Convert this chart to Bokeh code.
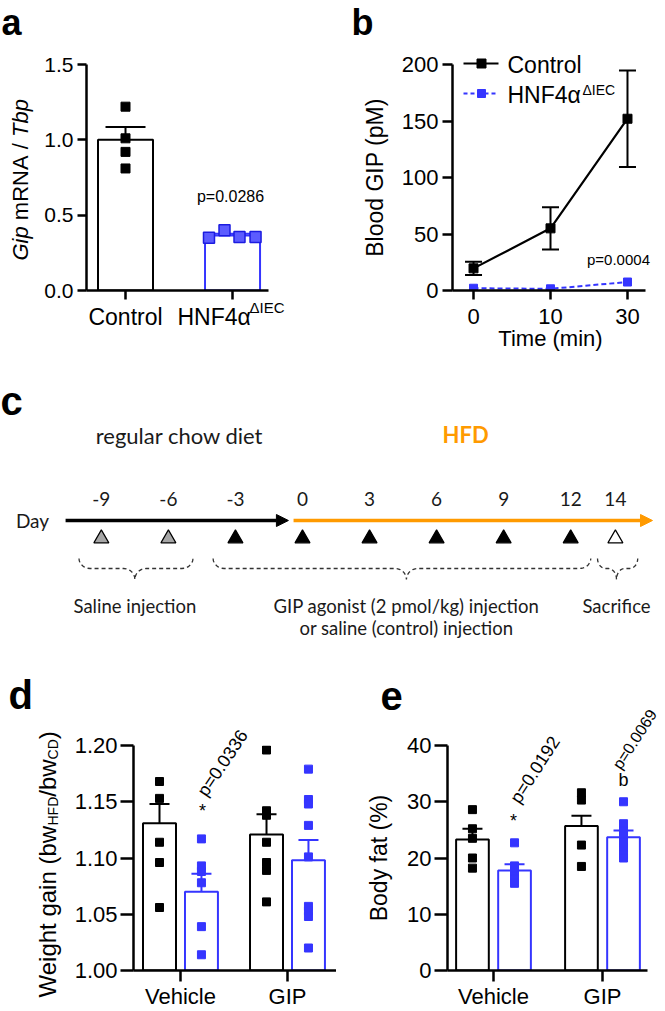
import numpy as np
from bokeh.plotting import figure
from bokeh.models import (Range1d, FixedTicker, Whisker, TeeHead, ColumnDataSource,
                          Arrow, NormalHead, NumeralTickFormatter, GridBox)
from bokeh.layouts import column, row
from bokeh.embed import file_html
from bokeh.resources import INLINE
from bokeh.core.properties import value

ARIAL = "Liberation Sans"
CAL = "Lato"
BLUE = "#3535ff"
ORANGE = "#ff9a00"
W, H = 665, 1011

# ---------------- data ----------------
# panel a
a_groups = ["Control", "HNF4α"]
a_mean = [1.00, 0.365]
a_sem = [0.085, 0.012]
a_ctrl_pts = [1.22, 1.01, 0.92, 0.81]
a_hnf_pts = [0.35, 0.40, 0.355, 0.355]
a_yticks = [0.0, 0.5, 1.0, 1.5]
# panel b
b_times = ["0", "10", "30"]
b_ctrl_mean = [19.6, 55.0, 152.0]
b_ctrl_sem = [5.9, 18.7, 42.7]
b_hnf_mean = [2.0, 1.5, 7.5]
b_yticks = [0, 50, 100, 150, 200]
# panel c
c_days = [-9, -6, -3, 0, 3, 6, 9, 12, 14]
c_kind = ["saline", "saline", "treat", "treat", "treat", "treat", "treat", "treat", "sacrifice"]
c_kind_color = {"saline": "#a6a6a6", "treat": "black", "sacrifice": "white"}
c_chow = (-10.6, -0.63)
c_hfd = (-0.4, 15.66)
c_braces = [(-10.0, -4.9, -7.5), (-4.0, 12.9, 4.65), (13.2, 15.0, 14.05)]
c_brace_text = ["Saline injection", "GIP agonist (2 pmol/kg) injection", "Sacrifice"]
# panels d, e
de_groups = ["Vehicle", "GIP"]
d_ctrl_mean = [1.131, 1.121]
d_ctrl_sem = [0.017, 0.018]
d_hnf_mean = [1.070, 1.098]
d_hnf_sem = [0.016, 0.018]
d_ctrl_pts = [[1.168, 1.153, 1.114, 1.096, 1.056],
              [1.196, 1.142, 1.138, 1.114, 1.096, 1.089, 1.061]]
d_hnf_pts = [[1.117, 1.093, 1.088, 1.078, 1.039, 1.014],
             [1.179, 1.152, 1.148, 1.129, 1.101, 1.057, 1.053, 1.048, 1.020]]
d_yticks = [1.00, 1.05, 1.10, 1.15, 1.20]
e_ctrl_mean = [23.3, 25.7]
e_ctrl_sem = [1.9, 1.8]
e_hnf_mean = [17.8, 23.7]
e_hnf_sem = [1.1, 1.2]
e_ctrl_pts = [[28.6, 25.2, 23.5, 20.0, 18.2],
              [31.6, 30.3, 22.3, 18.5]]
e_hnf_pts = [[22.7, 18.6, 17.6, 16.8, 16.2, 15.5],
             [30.0, 26.1, 24.8, 24.0, 22.8, 21.8, 20.6, 20.0]]
e_yticks = [0, 10, 20, 30, 40]


# ---------------- helpers ----------------
def make_fig(w, h, left, right, top, bottom, xr, yr, axes=True):
    kw = {}
    if not axes:
        kw = dict(x_axis_location=None, y_axis_location=None)
    p = figure(width=w, height=h, x_range=Range1d(*xr), y_range=Range1d(*yr),
               output_backend="svg", toolbar_location=None,
               min_border_left=left, min_border_right=right,
               min_border_top=top, min_border_bottom=bottom, **kw)
    p.outline_line_color = None
    p.xgrid.visible = False
    p.ygrid.visible = False
    p.background_fill_color = "white"
    p.border_fill_color = "white"
    return p


def style_axis(ax, size, tick_out=9, standoff=4):
    ax.axis_line_width = 2.5
    ax.axis_line_color = "black"
    ax.major_tick_line_width = 2.5
    ax.major_tick_line_color = "black"
    ax.major_tick_out = tick_out
    ax.major_tick_in = 0
    ax.minor_tick_out = 0
    ax.minor_tick_in = 0
    ax.major_label_text_font = ARIAL
    ax.major_label_text_font_size = f"{size}px"
    ax.major_label_text_color = "black"
    ax.major_label_standoff = standoff
    ax.axis_label_text_font = ARIAL
    ax.axis_label_text_font_style = "normal"
    ax.axis_label_text_color = "black"


def upper_whisker(p, xs, mean, sem, color, head):
    src = ColumnDataSource(dict(x=xs, lo=mean, hi=[m + s for m, s in zip(mean, sem)]))
    p.add_layout(Whisker(source=src, base="x", lower="lo", upper="hi", dimension="height",
                         lower_head=None, upper_head=TeeHead(size=head, line_width=2, line_color=color),
                         line_width=2, line_color=color))


# transparent overlay that carries the free-floating texts (page pixel coordinates)
ov = figure(width=W, height=H, x_range=Range1d(0, W), y_range=Range1d(0, H),
            output_backend="svg", toolbar_location=None, min_border=0,
            x_axis_location=None, y_axis_location=None)
ov.xgrid.visible = False
ov.ygrid.visible = False
ov.outline_line_color = None
ov.background_fill_color = None
ov.border_fill_color = None


def ot(x, y, text, size, font=ARIAL, angle=0.0, align="left", style="normal", color="black"):
    # y is the vertical middle of the text, in page pixels from the top
    ov.text(x=[x], y=[H - y], text=[text], angle=angle, text_font=value(font),
            text_font_size=f"{size}px", text_align=align, text_baseline="middle",
            text_font_style=style, text_color=color)


# ---------------- panel a ----------------
pa = make_fig(336, 350, 86, 68, 64, 60, (-0.3645, 1.336), (0, 1.5))
style_axis(pa.yaxis[0], 21)
style_axis(pa.xaxis[0], 23, tick_out=9, standoff=4)
pa.yaxis[0].ticker = FixedTicker(ticks=a_yticks)
pa.yaxis[0].formatter = NumeralTickFormatter(format="0.0")
pa.xaxis[0].ticker = FixedTicker(ticks=[0, 1])
pa.xaxis[0].major_label_overrides = {0: a_groups[0], 1: " "}
pa.vbar(x=[0, 1], top=a_mean, bottom=0, width=0.514, fill_color="white",
        line_color=["black", BLUE], line_width=2)
upper_whisker(pa, [0], a_mean[:1], a_sem[:1], "black", 40)
upper_whisker(pa, [1], a_mean[1:], a_sem[1:], BLUE, 36)
pa.scatter(x=[0] * len(a_ctrl_pts), y=a_ctrl_pts, marker="square", size=9, color="black")
a_hnf_jit = [-0.22, -0.075, 0.065, 0.215]
pa.scatter(x=[1 + j for j in a_hnf_jit], y=a_hnf_pts, marker="square", size=11,
           fill_color="#5c5cff", line_color="#1c1ce0", line_width=1.5)
ot(1, 22, "a", 36, style="bold")
ot(177, 316, a_groups[1], 23)
ot(249, 307, "ΔIEC", 15)
ot(230, 196, "p=0.0286", 16, align="center")
for txt, off, st in [("Gip", 0.0, "italic"), ("mRNA", 1.834, "normal"),
                     ("/", 5.056, "normal"), ("Tbp", 5.612, "italic")]:
    ot(20, 260 - off * 22, txt, 22, angle=np.pi / 2, style=st)

# ---------------- panel b ----------------
pb = make_fig(329, 350, 116, 20, 64, 60, (-0.273, 2.234), (0, 200))
style_axis(pb.yaxis[0], 22, tick_out=10, standoff=4)
style_axis(pb.xaxis[0], 22, tick_out=9, standoff=9)
pb.yaxis[0].ticker = FixedTicker(ticks=b_yticks)
pb.xaxis[0].ticker = FixedTicker(ticks=[0, 1, 2])
pb.xaxis[0].major_label_overrides = {i: t for i, t in enumerate(b_times)}
pb.yaxis[0].axis_label = "Blood GIP (pM)"
pb.yaxis[0].axis_label_text_font_size = "23px"
pb.yaxis[0].axis_label_standoff = 11
bx = list(range(len(b_times)))
src_b = ColumnDataSource(dict(x=bx, lo=[m - s for m, s in zip(b_ctrl_mean, b_ctrl_sem)],
                              hi=[m + s for m, s in zip(b_ctrl_mean, b_ctrl_sem)]))
pb.add_layout(Whisker(source=src_b, base="x", lower="lo", upper="hi", dimension="height",
                      lower_head=TeeHead(size=17, line_width=2), upper_head=TeeHead(size=17, line_width=2),
                      line_width=2, line_color="black"))
pb.line(bx, b_ctrl_mean, line_width=2.2, color="black")
pb.scatter(bx, b_ctrl_mean, marker="square", size=9, color="black")
pb.line(bx, b_hnf_mean, line_width=2, color=BLUE, line_dash="5 3")
pb.scatter(bx, b_hnf_mean, marker="square", size=8, color=BLUE)
ot(351, 22, "b", 36, style="bold")
ot(550, 338, "Time (min)", 22, align="center")
ot(618, 259, "p=0.0004", 15, align="center")
# legend
ov.line([463, 498], [H - 63, H - 63], line_width=2.2, color="black")
ov.scatter([481], [H - 63], marker="square", size=9, color="black")
ov.line([463, 498], [H - 93, H - 93], line_width=2, color=BLUE, line_dash="4 3")
ov.scatter([481], [H - 93], marker="square", size=8, color=BLUE)
ot(507, 64, "Control", 23)
ot(507, 94, "HNF4α", 23)
ot(582, 89, "ΔIEC", 14)

# ---------------- panel c ----------------
pc = make_fig(665, 290, 0, 0, 0, 0, (-13.512, 16.242), (640, 350), axes=False)
pc.text(x=[-13.512], y=[400], text=["c"], text_font=value(ARIAL), text_font_style="bold",
        text_font_size="40px", text_align="left", text_baseline="middle", text_color="black")
pc.text(x=[-5.5], y=[435], text=["regular chow diet"], text_font=value(CAL),
        text_font_size="22px", text_align="center", text_baseline="middle", text_color="#1a1a1a")
pc.text(x=[7.3], y=[434], text=["HFD"], text_font=value(CAL), text_font_style="bold",
        text_font_size="22px", text_align="center", text_baseline="middle", text_color=ORANGE)
pc.text(x=[-12.08], y=[520], text=["Day"], text_font=value(CAL), text_font_size="19px",
        text_align="center", text_baseline="middle", text_color="#1a1a1a")
pc.text(x=c_days, y=[498] * len(c_days), text=[str(d) for d in c_days], text_font=value(CAL),
        text_font_size="19px", text_align="center", text_baseline="middle", text_color="#1a1a1a")
pc.add_layout(Arrow(x_start=c_chow[0], y_start=520, x_end=c_chow[1], y_end=520,
                    line_width=3.5, line_color="black",
                    end=NormalHead(size=12, fill_color="black", line_color="black")))
pc.add_layout(Arrow(x_start=c_hfd[0], y_start=520, x_end=c_hfd[1], y_end=520,
                    line_width=3.5, line_color=ORANGE,
                    end=NormalHead(size=12, fill_color=ORANGE, line_color=ORANGE)))
pc.scatter(x=c_days, y=[538] * len(c_days), marker="triangle", size=15,
           fill_color=[c_kind_color[k] for k in c_kind], line_color="black", line_width=1.2)


def brace_path(x0, x1, xm, r, ytop=558, ymid=568, ytip=579):
    t = np.linspace(0, np.pi / 2, 8)
    xs = list(x0 + r - r * np.cos(t)) + list(xm - r + r * np.sin(t)) + \
        list(xm + r - r * np.cos(t)) + list(x1 - r + r * np.sin(t))
    ys = list(ytop + (ymid - ytop) * np.sin(t)) + list(ytip - (ytip - ymid) * np.cos(t)) + \
        list(ytip - (ytip - ymid) * np.sin(t)) + list(ymid - (ymid - ytop) * (1 - np.cos(t)))
    return xs, ys


for (b0, b1, bm) in c_braces:
    r = min(0.5, (b1 - b0) / 5)
    bxs, bys = brace_path(b0, b1, bm, r)
    pc.line(bxs, bys, line_dash="4 3", line_width=1.3, line_color="#333333")
for (b0, b1, bm), t in zip(c_braces, c_brace_text):
    pc.text(x=[bm], y=[605], text=[t], text_font=value(CAL), text_font_size="18.5px",
            text_align="center", text_baseline="middle", text_color="#1a1a1a")
pc.text(x=[c_braces[1][2]], y=[627], text=["or saline (control) injection"], text_font=value(CAL),
        text_font_size="18.5px", text_align="center", text_baseline="middle", text_color="#1a1a1a")


# ---------------- panels d, e ----------------
def bar_panel(p, ctrl_mean, ctrl_sem, hnf_mean, hnf_sem, ctrl_pts, hnf_pts, off, width):
    xc = [i - off for i in range(len(de_groups))]
    xh = [i + off for i in range(len(de_groups))]
    ybase = p.y_range.start
    p.vbar(x=xc, top=ctrl_mean, bottom=ybase, width=width, fill_color="white",
           line_color="black", line_width=2)
    p.vbar(x=xh, top=hnf_mean, bottom=ybase, width=width, fill_color="white",
           line_color=BLUE, line_width=2)
    for xs, pts, col in [(xc, ctrl_pts, "black"), (xh, hnf_pts, BLUE)]:
        for x, vals in zip(xs, pts):
            p.scatter(x=[x] * len(vals), y=vals, marker="square", size=8, color=col)
    upper_whisker(p, xc, ctrl_mean, ctrl_sem, "black", 20)
    upper_whisker(p, xh, hnf_mean, hnf_sem, BLUE, 20)


pd_ = make_fig(336, 371, 133, 0, 105, 40, (-0.439, 1.458), (1.0, 1.2))
style_axis(pd_.yaxis[0], 22, tick_out=13, standoff=3)
style_axis(pd_.xaxis[0], 22, tick_out=11, standoff=2)
pd_.yaxis[0].ticker = FixedTicker(ticks=d_yticks)
pd_.yaxis[0].formatter = NumeralTickFormatter(format="0.00")
pd_.xaxis[0].ticker = FixedTicker(ticks=[0, 1])
pd_.xaxis[0].major_label_overrides = {i: g for i, g in enumerate(de_groups)}
bar_panel(pd_, d_ctrl_mean, d_ctrl_sem, d_hnf_mean, d_hnf_sem, d_ctrl_pts, d_hnf_pts, 0.196, 0.308)
ot(8, 694, "d", 40, style="bold")
ot(202, 810, "*", 18, align="center")
ot(201, 794, "p=0.0336", 18, angle=np.radians(56))
for txt, off, sz, dx in [("Weight gain (bw", 0.0, 24, 0), ("HFD", 172.0, 14, 5),
                         ("/bw", 200.8, 24, 0), ("CD", 238.1, 14, 5), (")", 258.3, 24, 0)]:
    ot(47 + dx, 997 - off, txt, sz, angle=np.pi / 2)

pe = make_fig(329, 371, 111, 18, 105, 40, (-0.422, 1.413), (0, 40))
style_axis(pe.yaxis[0], 22, tick_out=13, standoff=3)
style_axis(pe.xaxis[0], 22, tick_out=11, standoff=2)
pe.yaxis[0].ticker = FixedTicker(ticks=e_yticks)
pe.xaxis[0].ticker = FixedTicker(ticks=[0, 1])
pe.xaxis[0].major_label_overrides = {i: g for i, g in enumerate(de_groups)}
pe.yaxis[0].axis_label = "Body fat (%)"
pe.yaxis[0].axis_label_text_font_size = "23px"
pe.yaxis[0].axis_label_standoff = 12
bar_panel(pe, e_ctrl_mean, e_ctrl_sem, e_hnf_mean, e_hnf_sem, e_ctrl_pts, e_hnf_pts, 0.193, 0.30)
ot(380, 695, "e", 40, style="bold")
ot(513, 820, "*", 18, align="center")
ot(514, 801, "p=0.0192", 18, angle=np.radians(57))
ot(623, 779, "b", 18, align="center")
ot(616, 767, "p=0.0069", 16, angle=np.radians(57))

main = column(row(pa, pb), pc, row(pd_, pe))
layout = GridBox(children=[(main, 0, 0), (ov, 0, 0)])
open("out.html", "w").write(file_html(layout, INLINE))
